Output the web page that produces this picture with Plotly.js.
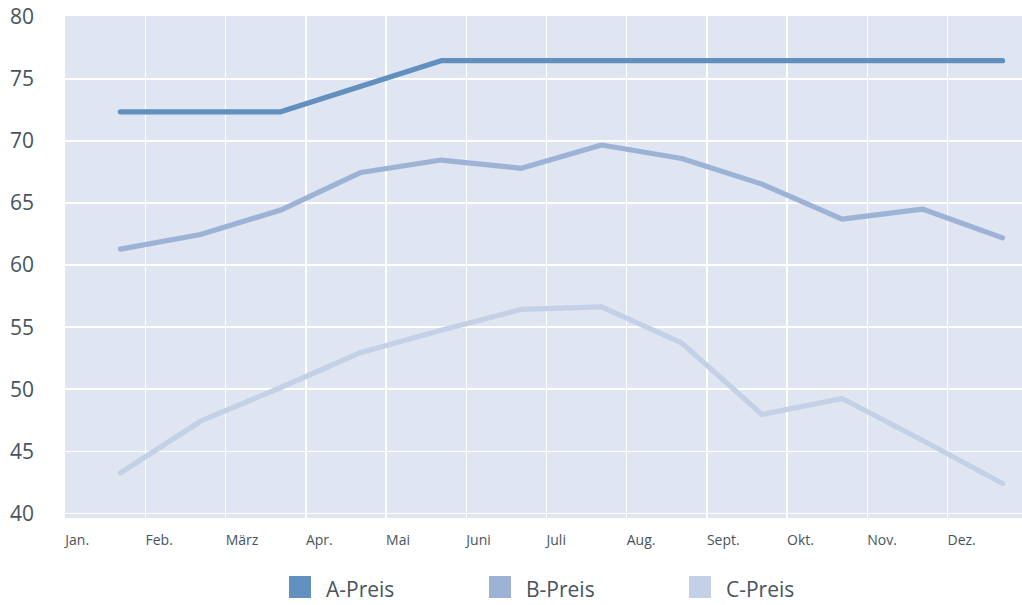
<!DOCTYPE html>
<html>
<head>
<meta charset="utf-8">
<script src="https://cdn.plot.ly/plotly-3.0.1.min.js"></script>
<style>
  html, body { margin: 0; padding: 0; background: #ffffff; }
  #chart { width: 1022px; height: 605px; }
  .js-line { stroke-linecap: round; stroke-linejoin: round; }
</style>
</head>
<body>
<div id="chart"></div>
<script>
// ---- data ----
const months = ["Jan.", "Feb.", "März", "Apr.", "Mai", "Juni", "Juli", "Aug.", "Sept.", "Okt.", "Nov.", "Dez."];
const seriesNames = ["A-Preis", "B-Preis", "C-Preis"];
const aPreis = [72.36, 72.36, 72.36, 74.42, 76.48, 76.48, 76.48, 76.48, 76.48, 76.48, 76.48, 76.48];
const bPreis = [61.29, 62.47, 64.44, 67.47, 68.47, 67.8, 69.68, 68.6, 66.53, 63.71, 64.52, 62.2];
const cPreis = [43.25, 47.42, 50.14, 52.96, 54.76, 56.43, 56.64, 53.73, 47.96, 49.25, 45.89, 42.4];
const yTicks = [40, 45, 50, 55, 60, 65, 70, 75, 80];

// ---- styling ----
const colors = ["#6190be", "#9db3d5", "#c3d0e6"];
const textColor = "#47545e";
const fontFam = "'Open Sans', 'Noto Sans', sans-serif";

const W = 1022, H = 605;
const margin = { l: 65, r: 0, t: 16, b: 87, pad: 0 };
const plotW = W - margin.l - margin.r;
const plotH = H - margin.t - margin.b;

const xIdx = months.map((m, i) => i);
const xStart = -0.69;
const tickOffset = 0.004; // month boundary just inside the left edge
const tickVals = months.map((m, i) => xStart + tickOffset + i);

const allSeries = [aPreis, bPreis, cPreis];
const traces = allSeries.map((vals, s) => ({
  type: "scatter",
  mode: "lines",
  name: seriesNames[s],
  x: xIdx,
  y: vals,
  line: { color: colors[s], width: 5.2 },
  showlegend: false,
  hoverinfo: "x+y"
})).reverse();

// legend drawn as shapes + annotations (pixel -> paper conversion)
const px2x = px => (px - margin.l) / plotW;
const py2y = py => (margin.t + plotH - py) / plotH;
const legendX = [289, 489, 689];
const sq = 22;
const sqTop = 576;
const shapes = seriesNames.map((n, s) => ({
  type: "rect", xref: "paper", yref: "paper",
  x0: px2x(legendX[s]), x1: px2x(legendX[s] + sq),
  y0: py2y(sqTop + sq), y1: py2y(sqTop),
  fillcolor: colors[s], line: { width: 0 }
}));
const annotations = seriesNames.map((n, s) => ({
  xref: "paper", yref: "paper",
  x: px2x(legendX[s] + sq + 13), y: py2y(589),
  xanchor: "left", yanchor: "middle",
  text: n, showarrow: false,
  font: { family: fontFam, size: 21, color: textColor }
}));

const layout = {
  width: W, height: H,
  margin: margin,
  paper_bgcolor: "#ffffff",
  plot_bgcolor: "#dfe5f1",
  showlegend: false,
  font: { family: fontFam, color: textColor },
  xaxis: {
    range: [xStart, xStart + plotW / 80.2],
    tickmode: "array",
    tickvals: tickVals,
    ticktext: months,
    ticklabelposition: "outside right",
    ticks: "",
    showgrid: true,
    gridcolor: "#ffffff",
    gridwidth: 1.5,
    zeroline: false,
    showline: false,
    fixedrange: true,
    ticklabelstandoff: 12,
    tickfont: { family: fontFam, size: 14, color: textColor }
  },
  yaxis: {
    range: [39.62, 80.08],
    tickmode: "array",
    tickvals: yTicks,
    ticks: "",
    showgrid: true,
    gridcolor: "#ffffff",
    gridwidth: 1.5,
    zeroline: false,
    showline: false,
    fixedrange: true,
    ticklabelstandoff: 30,
    tickfont: { family: fontFam, size: 21, color: textColor }
  },
  shapes: shapes,
  annotations: annotations
};

Plotly.newPlot("chart", traces, layout, { displayModeBar: false, staticPlot: true });
</script>
</body>
</html>
